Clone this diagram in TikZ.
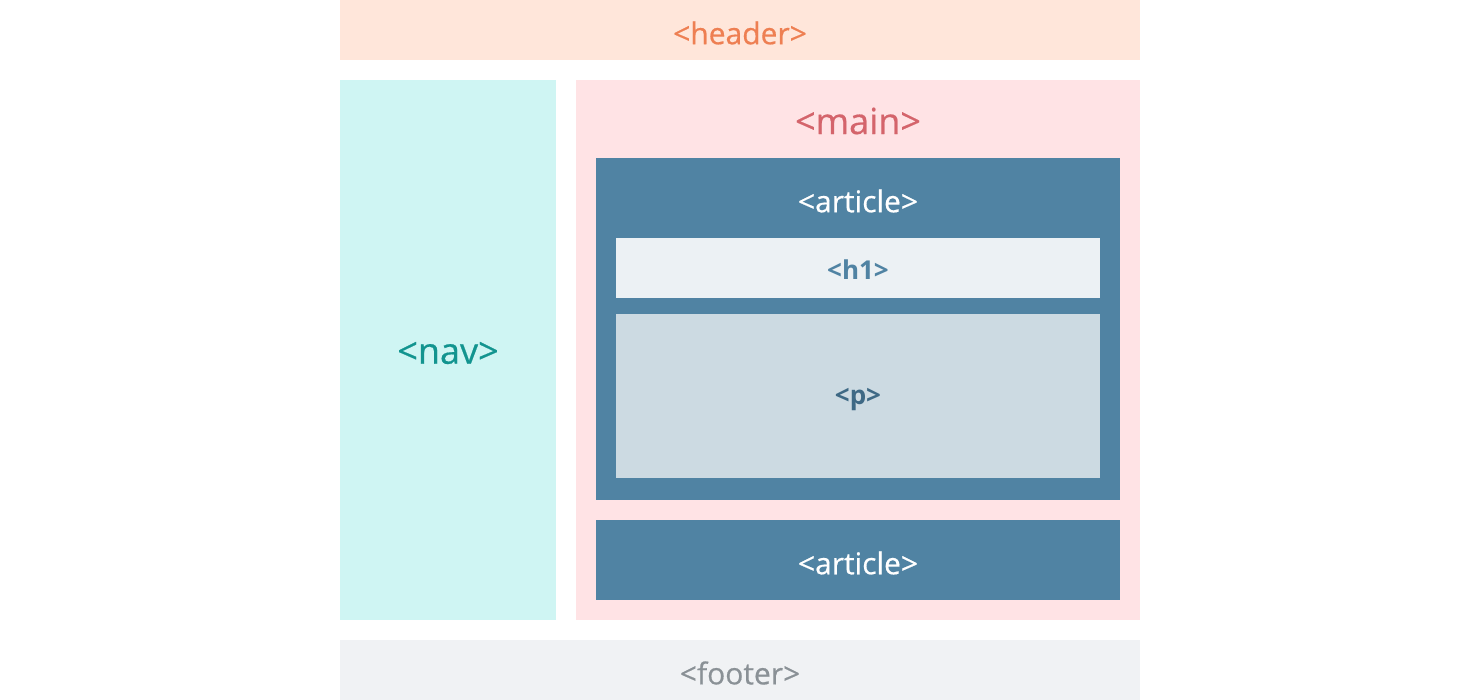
\documentclass[tikz,border=0pt]{standalone}
\usepackage{fontspec}
\setmainfont{Open Sans}
\newfontfamily\medfont[FakeBold=0.5]{Open Sans}
\definecolor{hdrfill}{HTML}{FFE6DA}
\definecolor{hdrtext}{HTML}{EE7F52}
\definecolor{navfill}{HTML}{CFF5F3}
\definecolor{navtext}{HTML}{12948F}
\definecolor{mainfill}{HTML}{FFE3E5}
\definecolor{maintext}{HTML}{D4646B}
\definecolor{artfill}{HTML}{5083A3}
\definecolor{hfill}{HTML}{ECF1F4}
\definecolor{pfill}{HTML}{CCDAE2}
\definecolor{ptext}{HTML}{3E6985}
\definecolor{ftfill}{HTML}{F0F2F4}
\definecolor{fttext}{HTML}{8A9196}
\tikzset{
  blk/.style={rectangle, inner sep=0pt, outer sep=0pt, draw=none},
  lbl/.style={inner sep=0pt, outer sep=0pt}
}
\begin{document}
\begin{tikzpicture}[x=1pt,y=-1pt]
\useasboundingbox (0,0) rectangle (1480,700);
\fill[white] (0,0) rectangle (1480,700);
% header
\node[blk, fill=hdrfill, minimum width=800pt, minimum height=60pt] (header) at (740,30) {};
\node[lbl, text=hdrtext, font=\medfont\fontsize{30}{36}\selectfont] (headert) at (740,33) {<header>};
% nav
\node[blk, fill=navfill, minimum width=216pt, minimum height=540pt] (nav) at (448,350) {};
\node[lbl, text=navtext, font=\medfont\fontsize{36}{42}\selectfont] (navt) at (448,353) {<nav>};
% main
\node[blk, fill=mainfill, minimum width=564pt, minimum height=540pt] (main) at (858,350) {};
\node[lbl, text=maintext, font=\medfont\fontsize{36}{42}\selectfont] (maint) at (858,121) {<main>};
% article 1
\node[blk, fill=artfill, minimum width=524pt, minimum height=342pt] (art1) at (858,329) {};
\node[lbl, text=white, font=\medfont\fontsize{30}{36}\selectfont] (art1t) at (858,201) {<article>};
% h1
\node[blk, fill=hfill, minimum width=484pt, minimum height=60pt] (h1) at (858,268) {};
\node[lbl, text=artfill, font=\bfseries\fontsize{26}{32}\selectfont] (h1t) at (858,270) {<h1>};
% p
\node[blk, fill=pfill, minimum width=484pt, minimum height=164pt] (p) at (858,396) {};
\node[lbl, text=ptext, font=\bfseries\fontsize{26}{32}\selectfont] (pt) at (858,399) {<p>};
% article 2
\node[blk, fill=artfill, minimum width=524pt, minimum height=80pt] (art2) at (858,560) {};
\node[lbl, text=white, font=\medfont\fontsize{30}{36}\selectfont] (art2t) at (858,563) {<article>};
% footer
\node[blk, fill=ftfill, minimum width=800pt, minimum height=60pt] (footer) at (740,670) {};
\node[lbl, text=fttext, font=\medfont\fontsize{30}{36}\selectfont] (footert) at (740,673) {<footer>};
\end{tikzpicture}
\end{document}
